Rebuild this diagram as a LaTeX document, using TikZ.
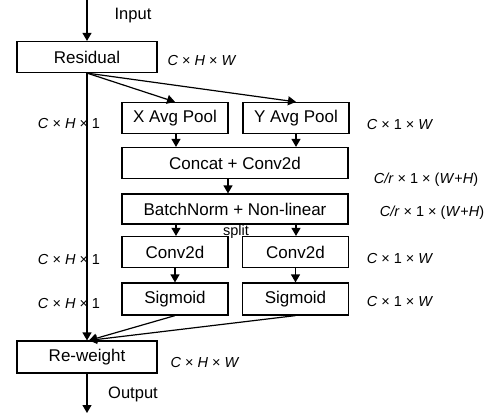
\documentclass[tikz,border=0pt]{standalone}
\usepackage{fontspec}
\setmainfont{Liberation Sans}
\usetikzlibrary{arrows.meta,calc}
\tikzset{
  blk/.style={draw,line width=1.2pt,minimum height=31pt,inner sep=0pt,font=\fontsize{17}{18}\selectfont},
  arr/.style={line width=1.2pt,-{Triangle[length=8pt,width=9pt]}},
  dim/.style={font=\fontsize{14.5}{16}\selectfont,inner sep=0pt},
  lbl/.style={font=\fontsize{16.5}{18}\selectfont,inner sep=0pt}
}
\newcommand{\tm}{\ ×\ }
\begin{document}
\begin{tikzpicture}[x=1pt,y=-1pt]
\useasboundingbox (0,0) rectangle (494,417);
% boxes
\node[blk,minimum width=140pt] (res) at (87,57) {Residual};
\node[blk,minimum width=106pt] (xa) at (175,118) {X Avg Pool};
\node[blk,minimum width=106pt] (ya) at (296,118) {Y Avg Pool};
\node[blk,minimum width=226pt] (cc) at (235,163) {Concat + Conv2d};
\node[blk,minimum width=226pt,minimum height=30pt] (bn) at (235,209) {BatchNorm + Non-linear};
\node[blk,minimum width=106pt] (c1) at (175,252) {Conv2d};
\node[blk,minimum width=106pt] (c2) at (295.5,252) {Conv2d};
\node[blk,minimum width=106pt,minimum height=32pt] (s1) at (175,299) {Sigmoid};
\node[blk,minimum width=106pt,minimum height=32pt] (s2) at (295.5,299) {Sigmoid};
\node[blk,minimum width=140pt,minimum height=32pt] (rw) at (87,357) {Re-weight};
% texts
\node[lbl] (in) at (133,16) {Input};
\node[lbl] (out) at (133,394) {Output};
\node[dim] (sp) at (236,232) {split};
\node[dim] (d1) at (202,61) {\textit{C}\tm\textit{H}\tm\textit{W}};
\node[dim] (d2) at (205,363) {\textit{C}\tm\textit{H}\tm\textit{W}};
\node[dim] (l1) at (69,124) {\textit{C}\tm\textit{H}\tm 1};
\node[dim] (l2) at (69,260) {\textit{C}\tm\textit{H}\tm 1};
\node[dim] (l3) at (69,304) {\textit{C}\tm\textit{H}\tm 1};
\node[dim] (r1) at (400,125) {\textit{C}\tm 1\tm\textit{W}};
\node[dim] (r2) at (426,180) {\textit{C/r}\tm 1\tm(\textit{W}+\textit{H})};
\node[dim] (r3) at (432,213) {\textit{C/r}\tm 1\tm(\textit{W}+\textit{H})};
\node[dim] (r4) at (400,259) {\textit{C}\tm 1\tm\textit{W}};
\node[dim] (r5) at (400,302) {\textit{C}\tm 1\tm\textit{W}};
% connector end points
\coordinate (top) at (87,0);
\coordinate (bot) at (87,413);
\coordinate (a1) at ($(xa.south)+(1,0)$);
\coordinate (a2) at (ya.south);
\coordinate (a3) at ($(cc.south)+(-7,0)$);
\coordinate (a4) at ($(bn.south)+(-59,0)$);
\coordinate (a5) at ($(bn.south)+(61,0)$);
\coordinate (rwin) at ($(rw.north)+(2,0)$);
% connectors
\draw[arr] (top) -- (res.north);
\draw[arr] (res.south) -- (xa.north);
\draw[arr] (res.south) -- (ya.north);
\draw[arr] (res.south) -- (rw.north);
\draw[arr] (a1) -- (a1 |- cc.north);
\draw[arr] (a2) -- (a2 |- cc.north);
\draw[arr] (a3) -- (a3 |- bn.north);
\draw[arr] (a4) -- (a4 |- c1.north);
\draw[arr] (a5) -- (a5 |- c2.north);
\draw[arr] (c1.south) -- (s1.north);
\draw[arr] (c2.south) -- (s2.north);
\draw[arr] (s1.south) -- (rwin);
\draw[arr] (s2.south) -- (rwin);
\draw[arr] (rw.south) -- (bot);
\end{tikzpicture}
\end{document}
